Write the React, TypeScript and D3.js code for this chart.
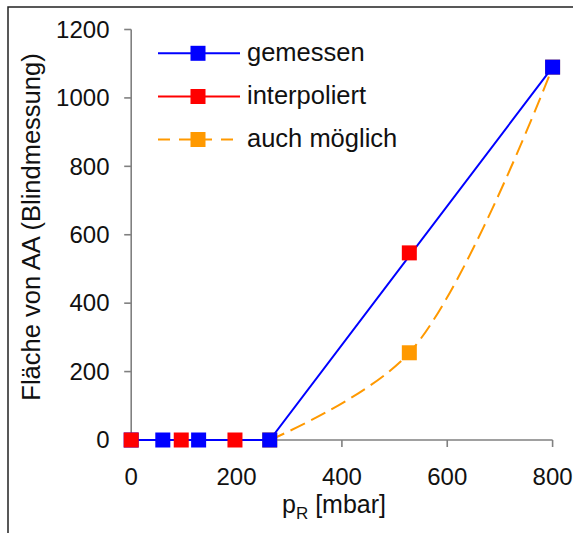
import React from "react";
import * as d3 from "d3";

const xTicks = [0, 200, 400, 600, 800];
const yTicks = [0, 200, 400, 600, 800, 1000, 1200];

const gemessenX = [0, 60, 128, 263, 800];
const gemessenY = [0, 0, 0, 0, 1090];
const interpoliertX = [0, 95, 197, 528];
const interpoliertY = [0, 0, 0, 547];
const moeglichX = [263, 528, 800];
const moeglichY = [0, 255, 1090];

const legendLabels = ["gemessen", "interpoliert", "auch möglich"];
const colors = ["#0000FF", "#FF0000", "#FF9900"];

const W = 573;
const H = 533;
const FONT = "'Liberation Sans', Arial, Helvetica, sans-serif";

export default function App() {
  const x = d3.scaleLinear().domain([0, 800]).range([131.2, 552.6]);
  const y = d3.scaleLinear().domain([0, 1200]).range([440, 29.5]);
  const zip = (xs: number[], ys: number[]) => xs.map((v, i) => [v, ys[i]] as [number, number]);
  const gem = zip(gemessenX, gemessenY);
  const intp = zip(interpoliertX, interpoliertY);
  const moe = zip(moeglichX, moeglichY);

  const straight = d3.line<[number, number]>().x((d) => x(d[0])).y((d) => y(d[1]));
  const smooth = d3
    .line<[number, number]>()
    .x((d) => x(d[0]))
    .y((d) => y(d[1]))
    .curve(d3.curveCatmullRom.alpha(0.5));

  const axisColor = "#808080";
  const ms = 15;
  const marker = (d: [number, number], c: string, k: string) => (
    <rect key={k} x={x(d[0]) - ms / 2} y={y(d[1]) - ms / 2} width={ms} height={ms} fill={c} />
  );

  const legendY = [53.3, 96.5, 139.5];

  return (
    <svg
      width={W}
      height={H}
      style={{ position: "absolute", left: 0, top: 0, display: "block", background: "#fff" }}
      fontFamily={FONT}
    >
      <rect x={8} y={7} width={700} height={700} fill="#fff" stroke="#222" strokeWidth={1.5} />

      {/* axes */}
      <line x1={x(0)} x2={x(0)} y1={y(0)} y2={y(1200)} stroke={axisColor} strokeWidth={1.6} />
      <line x1={x(0)} x2={x(800)} y1={y(0)} y2={y(0)} stroke={axisColor} strokeWidth={1.6} />
      {yTicks.map((t) => (
        <g key={"y" + t}>
          <line x1={x(0) - 7} x2={x(0)} y1={y(t)} y2={y(t)} stroke={axisColor} strokeWidth={1.6} />
          <text x={109.5} y={y(t) + 8.3} textAnchor="end" fontSize={24} fill="#111">
            {t}
          </text>
        </g>
      ))}
      {xTicks.map((t) => (
        <g key={"x" + t}>
          <line x1={x(t)} x2={x(t)} y1={y(0)} y2={y(0) + 7} stroke={axisColor} strokeWidth={1.6} />
          <text x={x(t)} y={484.5} textAnchor="middle" fontSize={24} fill="#111">
            {t}
          </text>
        </g>
      ))}

      {/* axis titles */}
      <text
        transform={`translate(39.5,227) rotate(-90)`}
        textAnchor="middle"
        fontSize={25.5}
        fill="#111"
      >
        Fläche von AA (Blindmessung)
      </text>
      <text x={334} y={513} textAnchor="middle" fontSize={25} fill="#111">
        p<tspan fontSize={17} dy={6}>R</tspan>
        <tspan dy={-6}> [mbar]</tspan>
      </text>

      {/* series */}
      <path d={smooth(moe) || ""} fill="none" stroke={colors[2]} strokeWidth={2} strokeDasharray="16,7" />
      {moe.map((d, i) => marker(d, colors[2], "m" + i))}
      <path d={straight(gem) || ""} fill="none" stroke={colors[0]} strokeWidth={2} />
      {gem.map((d, i) => marker(d, colors[0], "g" + i))}
      {intp.map((d, i) => marker(d, colors[1], "i" + i))}

      {/* legend */}
      {legendLabels.map((lab, i) => (
        <g key={lab}>
          <line
            x1={158}
            x2={240}
            y1={legendY[i]}
            y2={legendY[i]}
            stroke={colors[i]}
            strokeWidth={2}
            strokeDasharray={i === 2 ? "12,9" : undefined}
          />
          <rect x={198 - ms / 2} y={legendY[i] - ms / 2} width={ms} height={ms} fill={colors[i]} />
          <text x={247} y={legendY[i] + 7.5} fontSize={25.5} fill="#111">
            {lab}
          </text>
        </g>
      ))}
    </svg>
  );
}
